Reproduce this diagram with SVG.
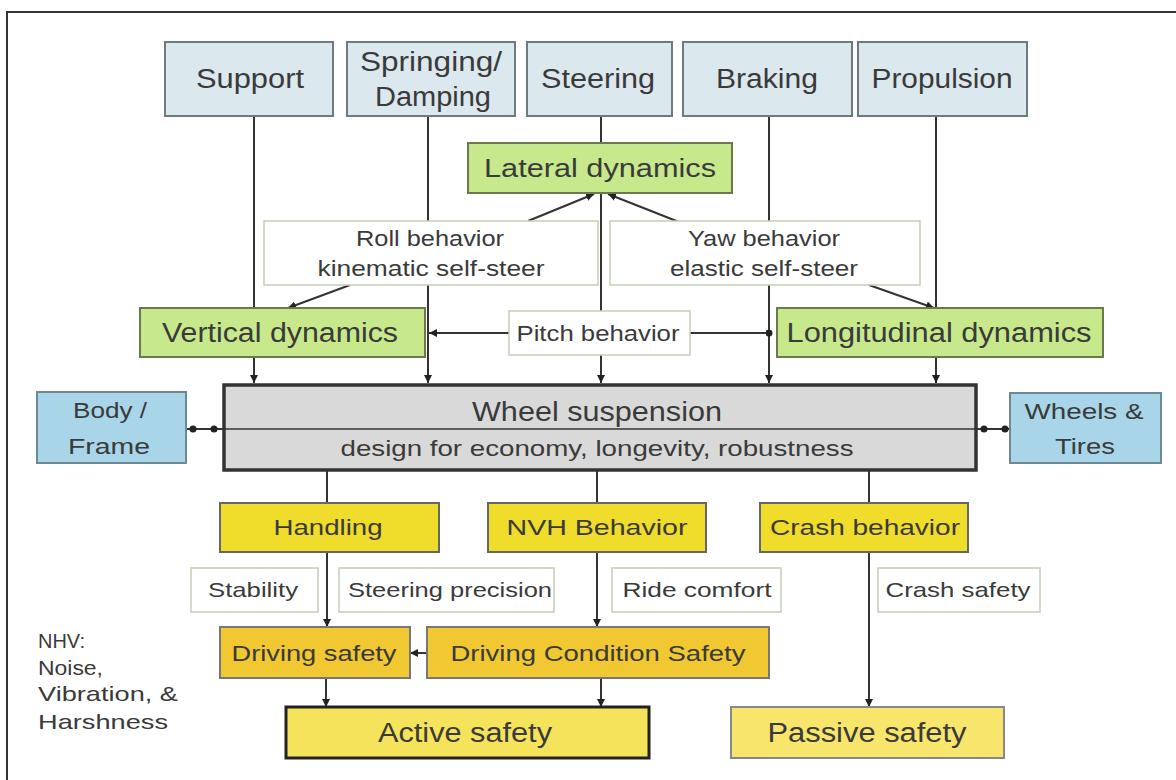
<svg xmlns="http://www.w3.org/2000/svg" width="1176" height="780" viewBox="0 0 1176 780">
<defs>
<marker id="arr" viewBox="0 0 10 10" refX="10" refY="5" markerWidth="8" markerHeight="9" markerUnits="userSpaceOnUse" orient="auto"><path d="M0,0 L10,5 L0,10 Z" fill="#222"/></marker>
<marker id="dot" viewBox="0 0 10 10" refX="5" refY="5" markerWidth="7" markerHeight="7" markerUnits="userSpaceOnUse"><circle cx="5" cy="5" r="5" fill="#222"/></marker>
<style>
text{font-family:"Liberation Sans",Arial,sans-serif;fill:#3a3a3a;text-anchor:middle}
.top{fill:#dbe8ee;stroke:#6e7a80;stroke-width:2}
.grn{fill:#c8e88c;stroke:#6b7a4e;stroke-width:2}
.wht{fill:#fff;stroke:#c4cfb4;stroke-width:1.5}
.blu{fill:#a9d5e8;stroke:#6b8a96;stroke-width:2}
.ws{fill:#d9d9d9;stroke:#333;stroke-width:3.5}
.yel{fill:#f0dc2a;stroke:#666;stroke-width:2}
.gld{fill:#f1c832;stroke:#777;stroke-width:2}
.act{fill:#f6e35c;stroke:#222;stroke-width:3}
.pas{fill:#f7e56c;stroke:#888;stroke-width:2}
.c{fill:none;stroke:#333;stroke-width:2}
.f27{font-size:27px}.f26{font-size:26px}.f22{font-size:22px}.f21{font-size:21px}
</style>
</defs>
<rect width="1176" height="780" fill="#fff"/>
<path d="M7 780 V12 H1176" fill="none" stroke="#333" stroke-width="2"/>

<g id="connectors">
<path class="c" d="M254 116 V383" marker-end="url(#arr)"/>
<path class="c" d="M428 116 V383" marker-end="url(#arr)"/>
<path class="c" d="M601 116 V383" marker-end="url(#arr)"/>
<path class="c" d="M769 116 V383" marker-end="url(#arr)"/>
<path class="c" d="M936 116 V383" marker-end="url(#arr)"/>
<path class="c" d="M528 221 L594 194" marker-end="url(#arr)"/>
<path class="c" d="M679 222 L608 194" marker-end="url(#arr)"/>
<path class="c" d="M350 285 L288 308" marker-end="url(#arr)"/>
<path class="c" d="M869 285 L934 308" marker-end="url(#arr)"/>
<path class="c" d="M509 333 H429" marker-end="url(#arr)"/>
<path class="c" d="M690 333 H769" marker-end="url(#dot)"/>
<path class="c" d="M186 429 H224"/>
<circle cx="193" cy="429" r="3.5" fill="#222"/><circle cx="214" cy="429" r="3.5" fill="#222"/>
<path class="c" d="M976 429 H1010"/>
<circle cx="984" cy="429" r="3.5" fill="#222"/><circle cx="1005" cy="429" r="3.5" fill="#222"/>
<path class="c" d="M327 470 V627" marker-end="url(#arr)"/>
<path class="c" d="M597 470 V627" marker-end="url(#arr)"/>
<path class="c" d="M869 470 V707" marker-end="url(#arr)"/>
<path class="c" d="M427 653 H410" marker-end="url(#arr)"/>
<path class="c" d="M326 678 V707" marker-end="url(#arr)"/>
<path class="c" d="M601 678 V707" marker-end="url(#arr)"/>
</g>

<g id="support"><rect class="top" x="165" y="42" width="168" height="74"/><text class="f27" x="250" y="88" textLength="108" lengthAdjust="spacingAndGlyphs">Support</text></g>
<g id="springing"><rect class="top" x="347" y="42" width="168" height="74"/><text class="f27" x="431" y="71" textLength="142" lengthAdjust="spacingAndGlyphs">Springing/</text><text class="f27" x="433" y="106" textLength="116" lengthAdjust="spacingAndGlyphs">Damping</text></g>
<g id="steering"><rect class="top" x="527" y="42" width="145" height="74"/><text class="f27" x="598" y="88" textLength="114" lengthAdjust="spacingAndGlyphs">Steering</text></g>
<g id="braking"><rect class="top" x="683" y="42" width="169" height="74"/><text class="f27" x="767" y="88" textLength="102" lengthAdjust="spacingAndGlyphs">Braking</text></g>
<g id="propulsion"><rect class="top" x="858" y="42" width="169" height="74"/><text class="f27" x="942" y="88" textLength="141" lengthAdjust="spacingAndGlyphs">Propulsion</text></g>

<g id="lateral"><rect class="grn" x="468" y="143" width="264" height="50"/><text class="f26" x="600" y="177" textLength="232" lengthAdjust="spacingAndGlyphs">Lateral dynamics</text></g>
<g id="roll"><rect class="wht" x="264" y="221" width="334" height="64"/><text class="f22" x="430" y="246" textLength="148" lengthAdjust="spacingAndGlyphs">Roll behavior</text><text class="f22" x="431" y="276" textLength="227" lengthAdjust="spacingAndGlyphs">kinematic self-steer</text></g>
<g id="yaw"><rect class="wht" x="610" y="221" width="310" height="64"/><text class="f22" x="764" y="246" textLength="152" lengthAdjust="spacingAndGlyphs">Yaw behavior</text><text class="f22" x="764" y="276" textLength="188" lengthAdjust="spacingAndGlyphs">elastic self-steer</text></g>
<g id="vertical"><rect class="grn" x="140" y="308" width="285" height="49"/><text class="f27" x="280" y="342" textLength="236" lengthAdjust="spacingAndGlyphs">Vertical dynamics</text></g>
<g id="pitch"><rect class="wht" x="509" y="311" width="181" height="44"/><text class="f22" x="598" y="341" textLength="163" lengthAdjust="spacingAndGlyphs">Pitch behavior</text></g>
<g id="longitudinal"><rect class="grn" x="777" y="308" width="326" height="49"/><text class="f27" x="939" y="342" textLength="305" lengthAdjust="spacingAndGlyphs">Longitudinal dynamics</text></g>

<g id="body"><rect class="blu" x="37" y="392" width="149" height="71"/><text class="f22" x="110" y="418" textLength="74" lengthAdjust="spacingAndGlyphs">Body /</text><text class="f22" x="109" y="454" textLength="82" lengthAdjust="spacingAndGlyphs">Frame</text></g>
<g id="wheel-suspension"><rect class="ws" x="224" y="385" width="752" height="85"/><line x1="224" y1="429" x2="976" y2="429" stroke="#333" stroke-width="1.5"/><text class="f27" x="597" y="421" textLength="250" lengthAdjust="spacingAndGlyphs">Wheel suspension</text><text class="f22" x="597" y="456" textLength="513" lengthAdjust="spacingAndGlyphs">design for economy, longevity, robustness</text></g>
<g id="wheels"><rect class="blu" x="1010" y="393" width="151" height="70"/><text class="f22" x="1084" y="419" textLength="119" lengthAdjust="spacingAndGlyphs">Wheels &amp;</text><text class="f22" x="1085" y="454" textLength="60" lengthAdjust="spacingAndGlyphs">Tires</text></g>

<g id="handling"><rect class="yel" x="220" y="503" width="219" height="49"/><text class="f22" x="328" y="535" textLength="109" lengthAdjust="spacingAndGlyphs">Handling</text></g>
<g id="nvh"><rect class="yel" x="488" y="503" width="218" height="49"/><text class="f22" x="597" y="535" textLength="181" lengthAdjust="spacingAndGlyphs">NVH Behavior</text></g>
<g id="crash"><rect class="yel" x="760" y="503" width="208" height="49"/><text class="f22" x="865" y="535" textLength="190" lengthAdjust="spacingAndGlyphs">Crash behavior</text></g>

<g id="stability"><rect class="wht" x="191" y="568" width="127" height="44"/><text class="f21" x="253" y="597" textLength="90" lengthAdjust="spacingAndGlyphs">Stability</text></g>
<g id="steering-precision"><rect class="wht" x="339" y="568" width="215" height="44"/><text class="f21" x="450" y="597" textLength="204" lengthAdjust="spacingAndGlyphs">Steering precision</text></g>
<g id="ride-comfort"><rect class="wht" x="612" y="568" width="169" height="44"/><text class="f21" x="697" y="597" textLength="149" lengthAdjust="spacingAndGlyphs">Ride comfort</text></g>
<g id="crash-safety"><rect class="wht" x="878" y="568" width="162" height="44"/><text class="f21" x="958" y="597" textLength="145" lengthAdjust="spacingAndGlyphs">Crash safety</text></g>

<g id="driving-safety"><rect class="gld" x="220" y="627" width="190" height="51"/><text class="f22" x="314" y="661" textLength="165" lengthAdjust="spacingAndGlyphs">Driving safety</text></g>
<g id="dcs"><rect class="gld" x="427" y="627" width="342" height="51"/><text class="f22" x="598" y="661" textLength="295" lengthAdjust="spacingAndGlyphs">Driving Condition Safety</text></g>
<g id="active"><rect class="act" x="286" y="707" width="363" height="51"/><text class="f27" x="465" y="742" textLength="174" lengthAdjust="spacingAndGlyphs">Active safety</text></g>
<g id="passive"><rect class="pas" x="731" y="707" width="273" height="51"/><text class="f27" x="867" y="742" textLength="199" lengthAdjust="spacingAndGlyphs">Passive safety</text></g>

<g id="nhv-note" style="text-anchor:start">
<text class="f21" x="38" y="648" style="text-anchor:start" textLength="47" lengthAdjust="spacingAndGlyphs">NHV:</text>
<text class="f21" x="38" y="675" style="text-anchor:start" textLength="65" lengthAdjust="spacingAndGlyphs">Noise,</text>
<text class="f21" x="38" y="701" style="text-anchor:start" textLength="140" lengthAdjust="spacingAndGlyphs">Vibration, &amp;</text>
<text class="f21" x="38" y="729" style="text-anchor:start" textLength="130" lengthAdjust="spacingAndGlyphs">Harshness</text>
</g>
</svg>
